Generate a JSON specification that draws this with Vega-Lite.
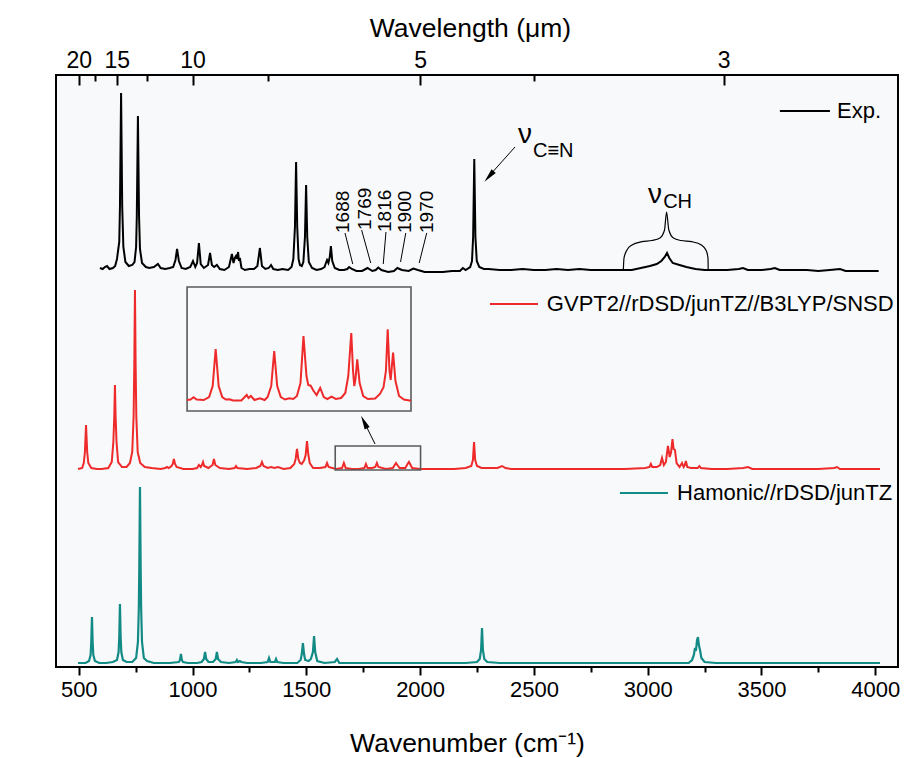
{
  "$schema": "https://vega.github.io/schema/vega-lite/v6.json",
  "width": 842,
  "height": 592,
  "autosize": {"type": "none"},
  "padding": {"left": 56, "top": 75, "right": 9, "bottom": 91},
  "background": "white",
  "config": {
    "font": "Liberation Sans",
    "view": {"stroke": "black", "strokeWidth": 2, "fill": "#f8f9fa"}
  },
  "datasets": {
    "exp": [
      {"wn":593,"y":399},{"wn":605,"y":398},{"wn":615,"y":400},{"wn":624,"y":401},{"wn":635,"y":398},{"wn":650,"y":399},{"wn":660,"y":401},{"wn":668,"y":408},{"wn":672,"y":415},{"wn":678,"y":425},{"wn":681,"y":460},{"wn":686,"y":574},{"wn":691,"y":460},{"wn":696,"y":420},{"wn":705,"y":405},{"wn":720,"y":401},{"wn":735,"y":402},{"wn":745,"y":405},{"wn":752,"y":420},{"wn":755,"y":450},{"wn":760,"y":551},{"wn":765,"y":450},{"wn":769,"y":418},{"wn":778,"y":404},{"wn":795,"y":400},{"wn":810,"y":399},{"wn":830,"y":400},{"wn":848,"y":403},{"wn":860,"y":399},{"wn":880,"y":398},{"wn":900,"y":399},{"wn":915,"y":400},{"wn":925,"y":407},{"wn":932,"y":418},{"wn":940,"y":406},{"wn":952,"y":399},{"wn":970,"y":398},{"wn":990,"y":400},{"wn":1002,"y":406},{"wn":1012,"y":400},{"wn":1020,"y":404},{"wn":1028,"y":424},{"wn":1036,"y":403},{"wn":1050,"y":399},{"wn":1068,"y":402},{"wn":1077,"y":414},{"wn":1085,"y":402},{"wn":1095,"y":400},{"wn":1107,"y":402},{"wn":1120,"y":398},{"wn":1140,"y":397},{"wn":1160,"y":400},{"wn":1173,"y":413},{"wn":1180,"y":404},{"wn":1186,"y":409},{"wn":1191,"y":411},{"wn":1196,"y":408},{"wn":1200,"y":415},{"wn":1204,"y":406},{"wn":1208,"y":409},{"wn":1215,"y":399},{"wn":1230,"y":397},{"wn":1250,"y":398},{"wn":1270,"y":398},{"wn":1285,"y":401},{"wn":1296,"y":419},{"wn":1305,"y":401},{"wn":1320,"y":398},{"wn":1335,"y":399},{"wn":1345,"y":402},{"wn":1355,"y":398},{"wn":1375,"y":397},{"wn":1395,"y":398},{"wn":1420,"y":397},{"wn":1435,"y":400},{"wn":1443,"y":408},{"wn":1450,"y":440},{"wn":1455,"y":505},{"wn":1460,"y":440},{"wn":1466,"y":408},{"wn":1472,"y":402},{"wn":1480,"y":401},{"wn":1487,"y":405},{"wn":1494,"y":430},{"wn":1499,"y":482},{"wn":1504,"y":430},{"wn":1511,"y":405},{"wn":1525,"y":399},{"wn":1545,"y":397},{"wn":1565,"y":398},{"wn":1580,"y":400},{"wn":1586,"y":404},{"wn":1591,"y":407},{"wn":1597,"y":404},{"wn":1603,"y":410},{"wn":1608,"y":421},{"wn":1614,"y":406},{"wn":1625,"y":399},{"wn":1645,"y":397},{"wn":1665,"y":397},{"wn":1680,"y":398},{"wn":1688,"y":400},{"wn":1700,"y":398},{"wn":1720,"y":396},{"wn":1745,"y":396},{"wn":1769,"y":399},{"wn":1790,"y":396},{"wn":1805,"y":397},{"wn":1816,"y":399.5},{"wn":1830,"y":397},{"wn":1860,"y":395},{"wn":1885,"y":396},{"wn":1900,"y":399},{"wn":1920,"y":397},{"wn":1950,"y":396},{"wn":1970,"y":398.5},{"wn":1990,"y":397},{"wn":2020,"y":395},{"wn":2060,"y":395},{"wn":2100,"y":395},{"wn":2140,"y":396},{"wn":2175,"y":396},{"wn":2188,"y":399},{"wn":2200,"y":397},{"wn":2220,"y":400},{"wn":2228,"y":406},{"wn":2233,"y":430},{"wn":2238,"y":508},{"wn":2243,"y":430},{"wn":2249,"y":406},{"wn":2260,"y":400},{"wn":2280,"y":398},{"wn":2300,"y":398},{"wn":2350,"y":397},{"wn":2400,"y":397},{"wn":2450,"y":398},{"wn":2500,"y":397},{"wn":2550,"y":397},{"wn":2600,"y":398},{"wn":2650,"y":397},{"wn":2700,"y":398},{"wn":2750,"y":397},{"wn":2800,"y":397},{"wn":2850,"y":397},{"wn":2900,"y":397},{"wn":2930,"y":397},{"wn":2970,"y":399},{"wn":3010,"y":401},{"wn":3040,"y":403},{"wn":3060,"y":406},{"wn":3075,"y":410},{"wn":3085,"y":414},{"wn":3095,"y":409},{"wn":3110,"y":404},{"wn":3140,"y":402},{"wn":3170,"y":400},{"wn":3210,"y":398},{"wn":3250,"y":397},{"wn":3300,"y":397},{"wn":3350,"y":397},{"wn":3400,"y":398},{"wn":3419,"y":399},{"wn":3440,"y":397},{"wn":3500,"y":397},{"wn":3540,"y":398},{"wn":3559,"y":399},{"wn":3580,"y":397},{"wn":3650,"y":397},{"wn":3700,"y":397},{"wn":3750,"y":396},{"wn":3800,"y":397},{"wn":3845,"y":398},{"wn":3870,"y":396},{"wn":3930,"y":396},{"wn":4015,"y":396}
    ],
    "gvpt2": [
      {"wn":497,"y":198},{"wn":515,"y":199},{"wn":522,"y":204},{"wn":527,"y":215},{"wn":532,"y":242},{"wn":537,"y":215},{"wn":542,"y":204},{"wn":555,"y":199},{"wn":580,"y":198},{"wn":600,"y":198},{"wn":630,"y":199},{"wn":645,"y":205},{"wn":652,"y":225},{"wn":656,"y":250},{"wn":659,"y":282},{"wn":662,"y":250},{"wn":666,"y":225},{"wn":673,"y":205},{"wn":690,"y":200},{"wn":710,"y":200},{"wn":725,"y":204},{"wn":735,"y":215},{"wn":741,"y":250},{"wn":744,"y":300},{"wn":747,"y":377},{"wn":750,"y":300},{"wn":753,"y":250},{"wn":759,"y":215},{"wn":770,"y":204},{"wn":790,"y":200},{"wn":820,"y":199},{"wn":860,"y":198},{"wn":880,"y":199},{"wn":888,"y":200},{"wn":895,"y":199},{"wn":908,"y":201},{"wn":913,"y":203},{"wn":918,"y":208},{"wn":923,"y":203},{"wn":930,"y":200},{"wn":960,"y":198},{"wn":1000,"y":198},{"wn":1020,"y":199},{"wn":1028,"y":202},{"wn":1036,"y":200},{"wn":1041,"y":202},{"wn":1046,"y":205},{"wn":1051,"y":201},{"wn":1070,"y":199},{"wn":1088,"y":202},{"wn":1094,"y":208},{"wn":1100,"y":202},{"wn":1120,"y":199},{"wn":1160,"y":198},{"wn":1185,"y":199},{"wn":1191,"y":201},{"wn":1197,"y":199},{"wn":1240,"y":198},{"wn":1280,"y":199},{"wn":1298,"y":201},{"wn":1305,"y":205},{"wn":1312,"y":201},{"wn":1330,"y":199},{"wn":1345,"y":200},{"wn":1360,"y":199},{"wn":1375,"y":200},{"wn":1400,"y":198},{"wn":1430,"y":199},{"wn":1447,"y":203},{"wn":1453,"y":208},{"wn":1459,"y":218},{"wn":1465,"y":208},{"wn":1472,"y":204},{"wn":1480,"y":203},{"wn":1491,"y":207},{"wn":1497,"y":212},{"wn":1503,"y":226},{"wn":1509,"y":212},{"wn":1515,"y":204},{"wn":1530,"y":199},{"wn":1560,"y":199},{"wn":1584,"y":200},{"wn":1591,"y":204},{"wn":1598,"y":200},{"wn":1630,"y":198},{"wn":1657,"y":199},{"wn":1665,"y":204},{"wn":1673,"y":199},{"wn":1700,"y":198},{"wn":1730,"y":198},{"wn":1755,"y":199},{"wn":1762,"y":203},{"wn":1769,"y":199},{"wn":1790,"y":199},{"wn":1803,"y":200},{"wn":1810,"y":204},{"wn":1817,"y":200},{"wn":1850,"y":198},{"wn":1880,"y":199},{"wn":1894,"y":204},{"wn":1900,"y":202},{"wn":1910,"y":199},{"wn":1935,"y":199},{"wn":1945,"y":203},{"wn":1951,"y":205},{"wn":1956,"y":203},{"wn":1965,"y":199},{"wn":2000,"y":198},{"wn":2050,"y":198},{"wn":2100,"y":198},{"wn":2150,"y":198},{"wn":2200,"y":199},{"wn":2225,"y":201},{"wn":2232,"y":207},{"wn":2237,"y":225},{"wn":2242,"y":207},{"wn":2250,"y":201},{"wn":2270,"y":199},{"wn":2300,"y":199},{"wn":2340,"y":199},{"wn":2360,"y":201},{"wn":2375,"y":199},{"wn":2400,"y":198},{"wn":2500,"y":198},{"wn":2600,"y":198},{"wn":2700,"y":198},{"wn":2800,"y":198},{"wn":2900,"y":198},{"wn":2990,"y":199},{"wn":3008,"y":200},{"wn":3014,"y":203},{"wn":3020,"y":200},{"wn":3040,"y":200},{"wn":3055,"y":202},{"wn":3063,"y":209},{"wn":3071,"y":202},{"wn":3080,"y":205},{"wn":3089,"y":221},{"wn":3097,"y":210},{"wn":3103,"y":215},{"wn":3109,"y":228},{"wn":3114,"y":218},{"wn":3120,"y":217},{"wn":3127,"y":204},{"wn":3140,"y":200},{"wn":3151,"y":204},{"wn":3158,"y":200},{"wn":3163,"y":202},{"wn":3168,"y":206},{"wn":3174,"y":200},{"wn":3190,"y":199},{"wn":3220,"y":199},{"wn":3227,"y":201},{"wn":3234,"y":199},{"wn":3280,"y":198},{"wn":3350,"y":198},{"wn":3420,"y":199},{"wn":3441,"y":200},{"wn":3460,"y":198},{"wn":3550,"y":198},{"wn":3650,"y":198},{"wn":3750,"y":198},{"wn":3820,"y":199},{"wn":3832,"y":200},{"wn":3845,"y":198},{"wn":3900,"y":198},{"wn":4021,"y":198}
    ],
    "harmonic": [
      {"wn":497,"y":4},{"wn":530,"y":4},{"wn":545,"y":6},{"wn":552,"y":12},{"wn":555,"y":25},{"wn":558,"y":50},{"wn":561,"y":25},{"wn":564,"y":12},{"wn":571,"y":6},{"wn":590,"y":4},{"wn":620,"y":4},{"wn":650,"y":5},{"wn":668,"y":7},{"wn":675,"y":15},{"wn":678,"y":30},{"wn":681,"y":63},{"wn":684,"y":30},{"wn":687,"y":15},{"wn":694,"y":7},{"wn":710,"y":5},{"wn":735,"y":5},{"wn":752,"y":9},{"wn":760,"y":25},{"wn":764,"y":60},{"wn":766,"y":100},{"wn":769,"y":180},{"wn":772,"y":100},{"wn":774,"y":60},{"wn":778,"y":25},{"wn":786,"y":9},{"wn":800,"y":6},{"wn":830,"y":4},{"wn":900,"y":4},{"wn":940,"y":5},{"wn":945,"y":7},{"wn":949,"y":13},{"wn":953,"y":7},{"wn":958,"y":5},{"wn":980,"y":4},{"wn":1020,"y":4},{"wn":1040,"y":5},{"wn":1050,"y":8},{"wn":1055,"y":15},{"wn":1060,"y":8},{"wn":1070,"y":5},{"wn":1090,"y":5},{"wn":1102,"y":8},{"wn":1107,"y":15},{"wn":1112,"y":8},{"wn":1125,"y":5},{"wn":1160,"y":4},{"wn":1190,"y":5},{"wn":1195,"y":7},{"wn":1200,"y":5},{"wn":1208,"y":6},{"wn":1214,"y":5},{"wn":1240,"y":4},{"wn":1300,"y":4},{"wn":1330,"y":5},{"wn":1336,"y":9},{"wn":1342,"y":5},{"wn":1362,"y":5},{"wn":1367,"y":8},{"wn":1372,"y":5},{"wn":1400,"y":4},{"wn":1460,"y":4},{"wn":1475,"y":7},{"wn":1480,"y":13},{"wn":1485,"y":24},{"wn":1490,"y":13},{"wn":1495,"y":7},{"wn":1510,"y":6},{"wn":1520,"y":8},{"wn":1529,"y":15},{"wn":1534,"y":31},{"wn":1539,"y":15},{"wn":1548,"y":6},{"wn":1580,"y":4},{"wn":1625,"y":5},{"wn":1635,"y":8},{"wn":1645,"y":4},{"wn":1700,"y":4},{"wn":1800,"y":4},{"wn":1900,"y":4},{"wn":2000,"y":4},{"wn":2100,"y":4},{"wn":2200,"y":4},{"wn":2250,"y":5},{"wn":2262,"y":8},{"wn":2268,"y":17},{"wn":2272,"y":39},{"wn":2276,"y":17},{"wn":2282,"y":8},{"wn":2295,"y":5},{"wn":2350,"y":4},{"wn":2500,"y":4},{"wn":2700,"y":4},{"wn":2900,"y":4},{"wn":3100,"y":4},{"wn":3180,"y":4},{"wn":3195,"y":7},{"wn":3203,"y":12},{"wn":3208,"y":19},{"wn":3212,"y":16},{"wn":3217,"y":27},{"wn":3221,"y":30},{"wn":3225,"y":22},{"wn":3230,"y":17},{"wn":3236,"y":9},{"wn":3250,"y":5},{"wn":3300,"y":4},{"wn":3500,"y":4},{"wn":3700,"y":4},{"wn":3900,"y":4},{"wn":4021,"y":4}
    ],
    "inset": [
      {"wn":1627,"y":11},{"wn":1633,"y":11.5},{"wn":1638,"y":13.7},{"wn":1643,"y":11.5},{"wn":1655,"y":11},{"wn":1664,"y":14},{"wn":1670,"y":25},{"wn":1675,"y":62},{"wn":1680,"y":25},{"wn":1686,"y":14},{"wn":1692,"y":11.5},{"wn":1698,"y":11.7},{"wn":1704,"y":10.5},{"wn":1718,"y":10.5},{"wn":1727,"y":16},{"wn":1730,"y":13},{"wn":1734,"y":15},{"wn":1740,"y":11},{"wn":1749,"y":12.7},{"wn":1757,"y":11},{"wn":1762,"y":14},{"wn":1768,"y":25},{"wn":1773,"y":60},{"wn":1778,"y":25},{"wn":1784,"y":14},{"wn":1791,"y":11.5},{"wn":1798,"y":12.7},{"wn":1805,"y":12},{"wn":1811,"y":15},{"wn":1817,"y":28},{"wn":1822,"y":75},{"wn":1827,"y":35},{"wn":1830,"y":26},{"wn":1834,"y":25.3},{"wn":1839,"y":20},{"wn":1844,"y":16},{"wn":1850,"y":23},{"wn":1856,"y":14},{"wn":1862,"y":12},{"wn":1869,"y":14.3},{"wn":1876,"y":12},{"wn":1885,"y":13},{"wn":1892,"y":18},{"wn":1897,"y":35},{"wn":1902,"y":78},{"wn":1905,"y":40},{"wn":1907,"y":25},{"wn":1909,"y":32},{"wn":1912,"y":51.7},{"wn":1916,"y":28},{"wn":1922,"y":15},{"wn":1930,"y":12},{"wn":1942,"y":12.5},{"wn":1950,"y":17},{"wn":1956,"y":23.7},{"wn":1960,"y":40},{"wn":1963,"y":81.7},{"wn":1966,"y":40},{"wn":1968,"y":31},{"wn":1970,"y":45},{"wn":1972,"y":58.3},{"wn":1976,"y":30},{"wn":1982,"y":15},{"wn":1990,"y":11.5},{"wn":2002,"y":10.3}
    ],
    "boxes": [
      {"name":"inset","x1":976,"x2":1960,"y1":256,"y2":380},
      {"name":"zoom","x1":1627,"x2":2002,"y1":197,"y2":221}
    ],
    "legend": [
      {"series":"Exp.","x1":3581,"x2":3801,"y":556,"xt":3832},
      {"series":"GVPT2//rDSD/junTZ//B3LYP/SNSD","x1":2307,"x2":2518,"y":363,"xt":2557},
      {"series":"Hamonic//rDSD/junTZ","x1":2878,"x2":3089,"y":174,"xt":3129}
    ],
    "peaklabels": [
      {"wn":1661,"y":434,"label":"1688"},
      {"wn":1756,"y":437,"label":"1769"},
      {"wn":1847,"y":435,"label":"1816"},
      {"wn":1935,"y":434,"label":"1900"},
      {"wn":2030,"y":434,"label":"1970"}
    ],
    "leaders": [
      {"x1":1670,"y1":434,"x2":1704,"y2":403},
      {"x1":1743,"y1":437,"x2":1783,"y2":404},
      {"x1":1850,"y1":435,"x2":1838,"y2":403},
      {"x1":1937,"y1":434,"x2":1914,"y2":405},
      {"x1":2029,"y1":434,"x2":1996,"y2":404},
      {"x1":2417,"y1":520,"x2":2303,"y2":491},
      {"x1":1802,"y1":223,"x2":1754,"y2":245}
    ],
    "heads": [
      {"name":"CN","wn":2303,"y":490.6},
      {"name":"inset","wn":1754,"y":245}
    ],
    "brace": [
      {"wn":2893,"y":397},{"wn":2896,"y":409},{"wn":2909,"y":417},{"wn":2931,"y":422},{"wn":2974,"y":425.3},{"wn":3019,"y":426.5},{"wn":3054,"y":429},{"wn":3074,"y":437},{"wn":3083,"y":455},{"wn":3093,"y":437},{"wn":3113,"y":429},{"wn":3146,"y":426.5},{"wn":3194,"y":425.3},{"wn":3236,"y":422},{"wn":3256,"y":417},{"wn":3265,"y":409},{"wn":3266,"y":397}
    ],
    "nu": [
      {"wn":2461,"y":524,"label":"ν"},
      {"wn":3032,"y":464,"label":"ν"}
    ],
    "subs": [
      {"wn":2496,"y":510,"label":"C≡N"},
      {"wn":3068,"y":459.5,"label":"CH"}
    ]
  },
  "layer": [
    {
      "layer": [
        {
          "data": {"name": "exp"},
          "mark": {"type": "line", "color": "black", "strokeWidth": 2},
          "encoding": {
            "x": {
              "field": "wn", "type": "quantitative",
              "scale": {"domain": [400, 4100], "nice": false, "zero": false},
              "axis": {
                "orient": "bottom",
                "values": [500,750,1000,1250,1500,1750,2000,2250,2500,2750,3000,3250,3500,3750,4000],
                "format": "d",
                "labelExpr": "datum.value % 500 == 0 ? datum.label : ''",
                "tickSize": {"condition": {"test": "datum.value % 500 == 0", "value": 8}, "value": 5},
                "tickWidth": 2, "tickColor": "black",
                "domain": false, "grid": false,
                "labelFontSize": 22, "labelColor": "black", "labelPadding": 4,
                "labelFlush": false, "labelOverlap": false,
                "title": "Wavenumber (cm⁻¹)", "titleFontSize": 26.5, "titleFontWeight": "normal",
                "titleColor": "black", "titlePadding": 30, "titleX": 411
              }
            },
            "y": {
              "field": "y", "type": "quantitative",
              "scale": {"domain": [0, 592], "nice": false, "zero": false},
              "axis": {
                "title": "IR Intensity (a.u.)", "titleFontSize": 29, "titleFontWeight": "normal",
                "titleColor": "black", "titlePadding": 4,
                "ticks": false, "labels": false, "domain": false, "grid": false
              }
            }
          }
        },
        {
          "data": {"name": "gvpt2"},
          "mark": {"type": "line", "color": "#ee2a2a", "strokeWidth": 2},
          "encoding": {
            "x": {"field": "wn", "type": "quantitative", "axis": null},
            "y": {"field": "y", "type": "quantitative", "axis": null}
          }
        },
        {
          "data": {"name": "harmonic"},
          "mark": {"type": "line", "color": "#128a85", "strokeWidth": 2.2},
          "encoding": {
            "x": {"field": "wn", "type": "quantitative", "axis": null},
            "y": {"field": "y", "type": "quantitative", "axis": null}
          }
        },
        {
          "data": {"name": "boxes"},
          "mark": {"type": "rect", "fill": null, "fillOpacity": 0, "stroke": "#5a5a5a", "strokeWidth": 1.6},
          "encoding": {
            "x": {"field": "x1", "type": "quantitative", "axis": null},
            "x2": {"field": "x2"},
            "y": {"field": "y1", "type": "quantitative", "axis": null},
            "y2": {"field": "y2"}
          }
        },
        {
          "data": {"name": "legend"},
          "mark": {"type": "rule", "strokeWidth": 2},
          "encoding": {
            "x": {
              "field": "x1", "type": "quantitative",
              "axis": {
                "orient": "top",
                "values": [500, 666.67, 1000, 2000, 3333.33],
                "labelExpr": "format(10000 / datum.value, '.0f')",
                "tickSize": -10,
                "tickWidth": 2, "tickColor": "black",
                "domain": false, "grid": false,
                "labelFontSize": 23, "labelColor": "black", "labelPadding": 13,
                "labelFlush": false, "labelOverlap": false,
                "title": "Wavelength (μm)", "titleFontSize": 26.5, "titleFontWeight": "normal",
                "titleColor": "black", "titlePadding": 7, "titleX": 414
              }
            },
            "x2": {"field": "x2"},
            "y": {"field": "y", "type": "quantitative", "axis": null},
            "color": {
              "field": "series", "type": "nominal", "legend": null,
              "scale": {
                "domain": ["Exp.", "GVPT2//rDSD/junTZ//B3LYP/SNSD", "Hamonic//rDSD/junTZ"],
                "range": ["black", "#ee2a2a", "#128a85"]
              }
            }
          }
        },
        {
          "data": {"name": "legend"},
          "mark": {"type": "text", "align": "left", "baseline": "middle", "fontSize": 22, "color": "black"},
          "encoding": {
            "x": {
              "field": "xt", "type": "quantitative",
              "axis": {
                "orient": "top",
                "values": [571.43, 800, 1333.33, 2500],
                "labels": false,
                "tickSize": -6,
                "tickWidth": 2, "tickColor": "black",
                "domain": false, "grid": false,
                "title": null
              }
            },
            "y": {"field": "y", "type": "quantitative", "axis": null},
            "text": {"field": "series"}
          }
        },
        {
          "data": {"name": "leaders"},
          "mark": {"type": "rule", "color": "black", "strokeWidth": 1},
          "encoding": {
            "x": {"field": "x1", "type": "quantitative", "axis": null},
            "x2": {"field": "x2"},
            "y": {"field": "y1", "type": "quantitative", "axis": null},
            "y2": {"field": "y2"}
          }
        },
        {
          "data": {"name": "heads"},
          "transform": [{"filter": "datum.name == 'CN'"}],
          "mark": {"type": "point", "shape": "M0,-1L-0.4,1L0.4,1Z", "filled": true, "color": "black", "opacity": 1, "size": 196, "angle": 221},
          "encoding": {
            "x": {"field": "wn", "type": "quantitative", "axis": null},
            "y": {"field": "y", "type": "quantitative", "axis": null}
          }
        },
        {
          "data": {"name": "heads"},
          "transform": [{"filter": "datum.name == 'inset'"}],
          "mark": {"type": "point", "shape": "M0,-1L-0.4,1L0.4,1Z", "filled": true, "color": "black", "opacity": 1, "size": 196, "angle": 334},
          "encoding": {
            "x": {"field": "wn", "type": "quantitative", "axis": null},
            "y": {"field": "y", "type": "quantitative", "axis": null}
          }
        },
        {
          "data": {"name": "brace"},
          "mark": {"type": "line", "color": "black", "strokeWidth": 1.2, "interpolate": "monotone"},
          "encoding": {
            "x": {"field": "wn", "type": "quantitative", "axis": null},
            "y": {"field": "y", "type": "quantitative", "axis": null}
          }
        },
        {
          "data": {"name": "peaklabels"},
          "mark": {"type": "text", "angle": 270, "align": "left", "baseline": "middle", "fontSize": 19, "color": "black"},
          "encoding": {
            "x": {"field": "wn", "type": "quantitative", "axis": null},
            "y": {"field": "y", "type": "quantitative", "axis": null},
            "text": {"field": "label"}
          }
        },
        {
          "data": {"name": "nu"},
          "mark": {"type": "text", "align": "center", "baseline": "alphabetic", "fontSize": 28, "color": "black"},
          "encoding": {
            "x": {"field": "wn", "type": "quantitative", "axis": null},
            "y": {"field": "y", "type": "quantitative", "axis": null},
            "text": {"field": "label"}
          }
        },
        {
          "data": {"name": "subs"},
          "mark": {"type": "text", "align": "left", "baseline": "alphabetic", "fontSize": 20, "color": "black"},
          "encoding": {
            "x": {"field": "wn", "type": "quantitative", "axis": null},
            "y": {"field": "y", "type": "quantitative", "axis": null},
            "text": {"field": "label"}
          }
        }
      ],
      "resolve": {"axis": {"x": "independent"}}
    },
    {
      "data": {"name": "inset"},
      "mark": {"type": "line", "color": "#ee2a2a", "strokeWidth": 2},
      "encoding": {
        "x": {"field": "wn", "type": "quantitative", "axis": null,
              "scale": {"domain": [1627, 2002], "range": [131, 355], "nice": false, "zero": false}},
        "y": {"field": "y", "type": "quantitative", "axis": null,
              "scale": {"domain": [0, 124], "range": [336, 212], "nice": false, "zero": false}}
      }
    }
  ],
  "resolve": {"scale": {"x": "independent", "y": "independent"}}
}
